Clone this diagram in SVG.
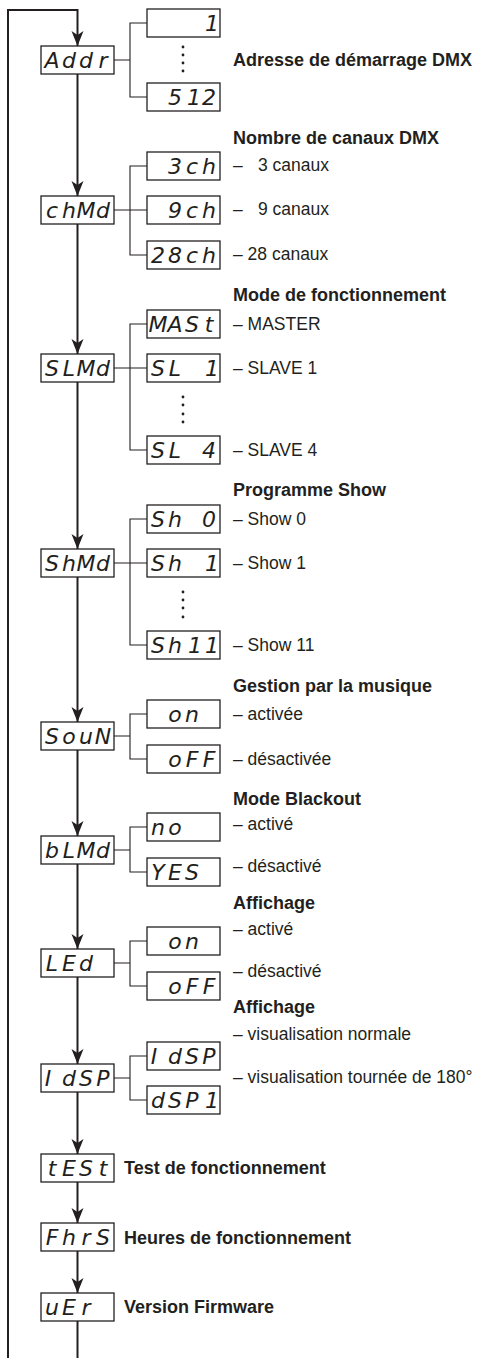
<svg xmlns="http://www.w3.org/2000/svg" width="485" height="1358" viewBox="0 0 485 1358">
<style>
.box{fill:#fff;stroke:#231f20;stroke-width:1.3}
.seg{font-family:"DejaVu Sans",sans-serif;font-style:oblique;font-size:22px;fill:#231f20;text-anchor:middle}
.h{font-family:"Liberation Sans",Arial,sans-serif;font-weight:bold;font-size:18px;fill:#231f20}
.t{font-family:"Liberation Sans",Arial,sans-serif;font-size:17.5px;fill:#231f20}
.main{stroke:#231f20;stroke-width:2;fill:none}
.br{stroke:#231f20;stroke-width:1.1;fill:none}
.dot{fill:#231f20}
</style>
<defs>
<marker id="ah" viewBox="-16 -7 17 14" refX="0" refY="0" markerWidth="17" markerHeight="14" markerUnits="userSpaceOnUse" orient="auto">
<path d="M0,0 L-15,-6 L-11,0 L-15,6 Z" fill="#231f20"/>
</marker>
</defs>
<rect width="485" height="1358" fill="#fff"/>
<g id="connectors">
<path class="main" d="M8,1358 V10 H77.5 V46" marker-end="url(#ah)"/>
<path class="main" d="M77.5,74 V196" marker-end="url(#ah)"/>
<path class="main" d="M77.5,224 V354" marker-end="url(#ah)"/>
<path class="main" d="M77.5,382 V549" marker-end="url(#ah)"/>
<path class="main" d="M77.5,577 V722" marker-end="url(#ah)"/>
<path class="main" d="M77.5,750 V836" marker-end="url(#ah)"/>
<path class="main" d="M77.5,864 V949" marker-end="url(#ah)"/>
<path class="main" d="M77.5,977 V1064" marker-end="url(#ah)"/>
<path class="main" d="M77.5,1092 V1154" marker-end="url(#ah)"/>
<path class="main" d="M77.5,1182 V1223" marker-end="url(#ah)"/>
<path class="main" d="M77.5,1251 V1293" marker-end="url(#ah)"/>
<path class="main" d="M77.5,1321 V1358"/>
<path class="br" d="M114,60 H130 M147,23 H130 V97 H147"/>
<path class="br" d="M114,210 H147 M147,166 H130 V255 H147"/>
<path class="br" d="M114,368 H147 M147,324 H130 V450 H147"/>
<path class="br" d="M114,563 H147 M147,519 H130 V645 H147"/>
<path class="br" d="M114,736 H130 M147,714 H130 V759 H147"/>
<path class="br" d="M114,850 H130 M147,827 H130 V872 H147"/>
<path class="br" d="M114,963 H130 M147,941 H130 V986 H147"/>
<path class="br" d="M114,1078 H130 M147,1056 H130 V1100 H147"/>
</g>
<g id="dots">
<circle class="dot" cx="183" cy="47" r="1.4"/><circle class="dot" cx="183" cy="55" r="1.4"/><circle class="dot" cx="183" cy="63" r="1.4"/><circle class="dot" cx="183" cy="71" r="1.4"/>
<circle class="dot" cx="183" cy="397" r="1.4"/><circle class="dot" cx="183" cy="405" r="1.4"/><circle class="dot" cx="183" cy="414" r="1.4"/><circle class="dot" cx="183" cy="422" r="1.4"/>
<circle class="dot" cx="183" cy="592" r="1.4"/><circle class="dot" cx="183" cy="600" r="1.4"/><circle class="dot" cx="183" cy="608" r="1.4"/><circle class="dot" cx="183" cy="617" r="1.4"/>
</g>
<g id="n-addr"><rect class="box" x="41" y="46" width="73" height="28"/><text class="seg" x="52 69 86 103" y="67.5">Addr</text></g>
<g id="n-addr-1"><rect class="box" x="147" y="9" width="73" height="28"/><text class="seg" x="212" y="30.5">1</text></g>
<g id="n-addr-512"><rect class="box" x="147" y="83" width="73" height="28"/><text class="seg" x="175 194 209" y="104.5">512</text></g>
<g id="n-chmd"><rect class="box" x="41" y="196" width="73" height="28"/><text class="seg" x="52 69 86 103" y="217.5">chMd</text></g>
<g id="n-3ch"><rect class="box" x="147" y="152" width="73" height="28"/><text class="seg" x="175 192 209" y="173.5">3ch</text></g>
<g id="n-9ch"><rect class="box" x="147" y="196" width="73" height="28"/><text class="seg" x="175 192 209" y="217.5">9ch</text></g>
<g id="n-28ch"><rect class="box" x="147" y="241" width="73" height="28"/><text class="seg" x="158 175 192 209" y="262.5">28ch</text></g>
<g id="n-slmd"><rect class="box" x="41" y="354" width="73" height="28"/><text class="seg" x="52 69 86 103" y="375.5">SLMd</text></g>
<g id="n-mast"><rect class="box" x="147" y="310" width="73" height="28"/><text class="seg" x="158 175 192 209" y="331.5">MASt</text></g>
<g id="n-sl1"><rect class="box" x="147" y="354" width="73" height="28"/><text class="seg" x="158 175 192 212" y="375.5">SL 1</text></g>
<g id="n-sl4"><rect class="box" x="147" y="436" width="73" height="28"/><text class="seg" x="158 175 192 209" y="457.5">SL 4</text></g>
<g id="n-shmd"><rect class="box" x="41" y="549" width="73" height="28"/><text class="seg" x="52 69 86 103" y="570.5">ShMd</text></g>
<g id="n-sh0"><rect class="box" x="147" y="505" width="73" height="28"/><text class="seg" x="158 175 192 209" y="526.5">Sh 0</text></g>
<g id="n-sh1"><rect class="box" x="147" y="549" width="73" height="28"/><text class="seg" x="158 175 192 212" y="570.5">Sh 1</text></g>
<g id="n-sh11"><rect class="box" x="147" y="631" width="73" height="28"/><text class="seg" x="158 175 195 212" y="652.5">Sh11</text></g>
<g id="n-soun"><rect class="box" x="41" y="722" width="73" height="28"/><text class="seg" x="52 69 86 103" y="743.5">SouN</text></g>
<g id="n-soun-on"><rect class="box" x="147" y="700" width="73" height="28"/><text class="seg" x="175 192" y="721.5">on</text></g>
<g id="n-soun-off"><rect class="box" x="147" y="745" width="73" height="28"/><text class="seg" x="175 192 209" y="766.5">oFF</text></g>
<g id="n-blmd"><rect class="box" x="41" y="836" width="73" height="28"/><text class="seg" x="52 69 86 103" y="857.5">bLMd</text></g>
<g id="n-no"><rect class="box" x="147" y="813" width="73" height="28"/><text class="seg" x="158 175" y="834.5">no</text></g>
<g id="n-yes"><rect class="box" x="147" y="858" width="73" height="28"/><text class="seg" x="158 175 192" y="879.5">YES</text></g>
<g id="n-led"><rect class="box" x="41" y="949" width="73" height="28"/><text class="seg" x="52 69 86" y="970.5">LEd</text></g>
<g id="n-led-on"><rect class="box" x="147" y="927" width="73" height="28"/><text class="seg" x="175 192" y="948.5">on</text></g>
<g id="n-led-off"><rect class="box" x="147" y="972" width="73" height="28"/><text class="seg" x="175 192 209" y="993.5">oFF</text></g>
<g id="n-idsp"><rect class="box" x="41" y="1064" width="73" height="28"/><text class="seg" x="48 69 86 103" y="1085.5">IdSP</text></g>
<g id="n-idsp-n"><rect class="box" x="147" y="1042" width="73" height="28"/><text class="seg" x="154 175 192 209" y="1063.5">IdSP</text></g>
<g id="n-dsp1"><rect class="box" x="147" y="1086" width="73" height="28"/><text class="seg" x="158 175 192 212" y="1107.5">dSP1</text></g>
<g id="n-test"><rect class="box" x="41" y="1154" width="73" height="28"/><text class="seg" x="52 69 86 103" y="1175.5">tESt</text></g>
<g id="n-fhrs"><rect class="box" x="41" y="1223" width="73" height="28"/><text class="seg" x="52 69 86 103" y="1244.5">FhrS</text></g>
<g id="n-uer"><rect class="box" x="41" y="1293" width="73" height="28"/><text class="seg" x="52 69 86" y="1314.5">uEr</text></g>
<g id="labels">
<text class="h" x="233" y="66">Adresse de démarrage DMX</text>
<text class="h" x="233" y="144">Nombre de canaux DMX</text>
<text class="t" x="233" y="171">–<tspan x="258">3 canaux</tspan></text>
<text class="t" x="233" y="215">–<tspan x="258">9 canaux</tspan></text>
<text class="t" x="233" y="260">– 28 canaux</text>
<text class="h" x="233" y="301">Mode de fonctionnement</text>
<text class="t" x="233" y="330">– MASTER</text>
<text class="t" x="233" y="374">– SLAVE 1</text>
<text class="t" x="233" y="456">– SLAVE 4</text>
<text class="h" x="233" y="496">Programme Show</text>
<text class="t" x="233" y="525">– Show 0</text>
<text class="t" x="233" y="569">– Show 1</text>
<text class="t" x="233" y="651">– Show 11</text>
<text class="h" x="233" y="692">Gestion par la musique</text>
<text class="t" x="233" y="720">– activée</text>
<text class="t" x="233" y="765">– désactivée</text>
<text class="h" x="233" y="805">Mode Blackout</text>
<text class="t" x="233" y="830">– activé</text>
<text class="t" x="233" y="872">– désactivé</text>
<text class="h" x="233" y="909">Affichage</text>
<text class="t" x="233" y="935">– activé</text>
<text class="t" x="233" y="977">– désactivé</text>
<text class="h" x="233" y="1013">Affichage</text>
<text class="t" x="233" y="1040">– visualisation normale</text>
<text class="t" x="233" y="1083">– visualisation tournée de 180°</text>
<text class="h" x="124" y="1174">Test de fonctionnement</text>
<text class="h" x="124" y="1244">Heures de fonctionnement</text>
<text class="h" x="124" y="1313">Version Firmware</text>
</g>
</svg>
